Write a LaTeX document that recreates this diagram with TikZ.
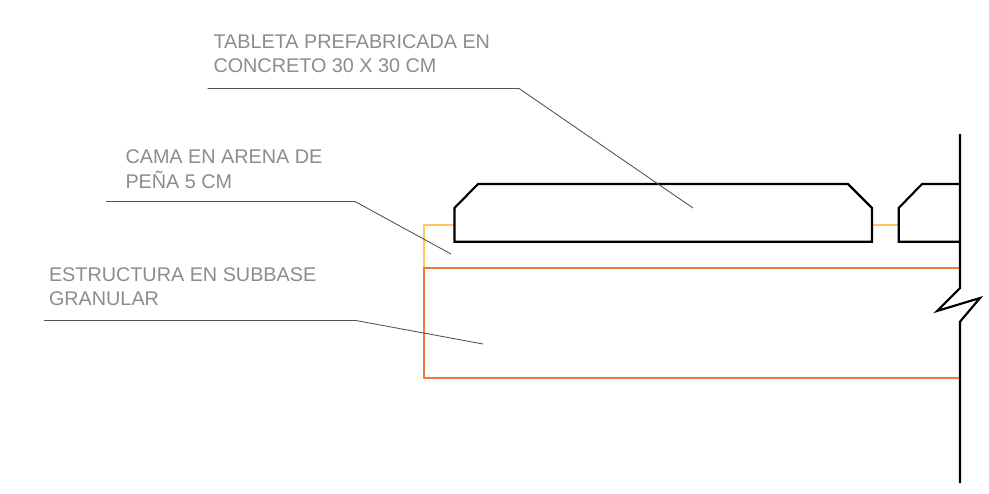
\documentclass[tikz,border=0pt]{standalone}
\usepackage{fontspec}
\setmainfont{Liberation Sans}
\definecolor{subbase}{RGB}{240,120,60}
\definecolor{arena}{RGB}{252,200,95}
\tikzset{
  labeltext/.style={anchor=base west,inner sep=0pt,outer sep=0pt,text=black!45,font=\fontsize{14.85pt}{17pt}\selectfont},
  leader/.style={draw=black!68,line width=0.65pt},
  solidline/.style={draw=black,line width=1.6pt,line join=miter},
  orangeline/.style={draw=subbase,line width=1.6pt},
  yellowline/.style={draw=arena,line width=1.6pt}
}
\begin{document}
\begin{tikzpicture}[x=0.75pt,y=-0.75pt]
\useasboundingbox (0,0) rectangle (989,493);
% labels
\node[labeltext] (t1a) at (213.5,48) {TABLETA PREFABRICADA EN};
\node[labeltext] (t1b) at (213.5,72) {CONCRETO 30 X 30 CM};
\node[labeltext] (t2a) at (125.5,163.4) {CAMA EN ARENA DE};
\node[labeltext] (t2b) at (125.5,188.3) {PEÑA 5 CM};
\node[labeltext] (t3a) at (49,281.4) {ESTRUCTURA EN SUBBASE};
\node[labeltext] (t3b) at (49,305.4) {GRANULAR};
% leader points
\coordinate (l1s) at (207.5,88.5);
\coordinate (l1m) at (519,88.5);
\coordinate (l1e) at (693,208);
\coordinate (l2s) at (106,201.5);
\coordinate (l2m) at (355,201.5);
\coordinate (l2e) at (451,254);
\coordinate (l3s) at (44,320.5);
\coordinate (l3m) at (356,320.5);
\coordinate (l3e) at (483,344);
% sand bed
\draw[yellowline] (454.5,224.7) -- (424,224.7) -- (424,267.5);
\draw[yellowline] (872,224.7) -- (899,224.7);
% subbase
\draw[orangeline] (960,267.7) -- (424,267.7) -- (424,378) -- (960,378);
% tiles
\draw[solidline] (454.5,241.7) -- (454.5,208) -- (478,184) -- (848,184) -- (872,208) -- (872,241.7) -- cycle;
\draw[solidline] (960,184) -- (922,184) -- (898.7,208) -- (898.7,241.7) -- (960,241.7);
% break line
\draw[solidline] (960,134) -- (960,288) -- (937,311) -- (980,298) -- (960,321.7) -- (960,483);
% leaders
\draw[leader] (l1s) -- (l1m) -- (l1e);
\draw[leader] (l2s) -- (l2m) -- (l2e);
\draw[leader] (l3s) -- (l3m) -- (l3e);
\end{tikzpicture}
\end{document}
